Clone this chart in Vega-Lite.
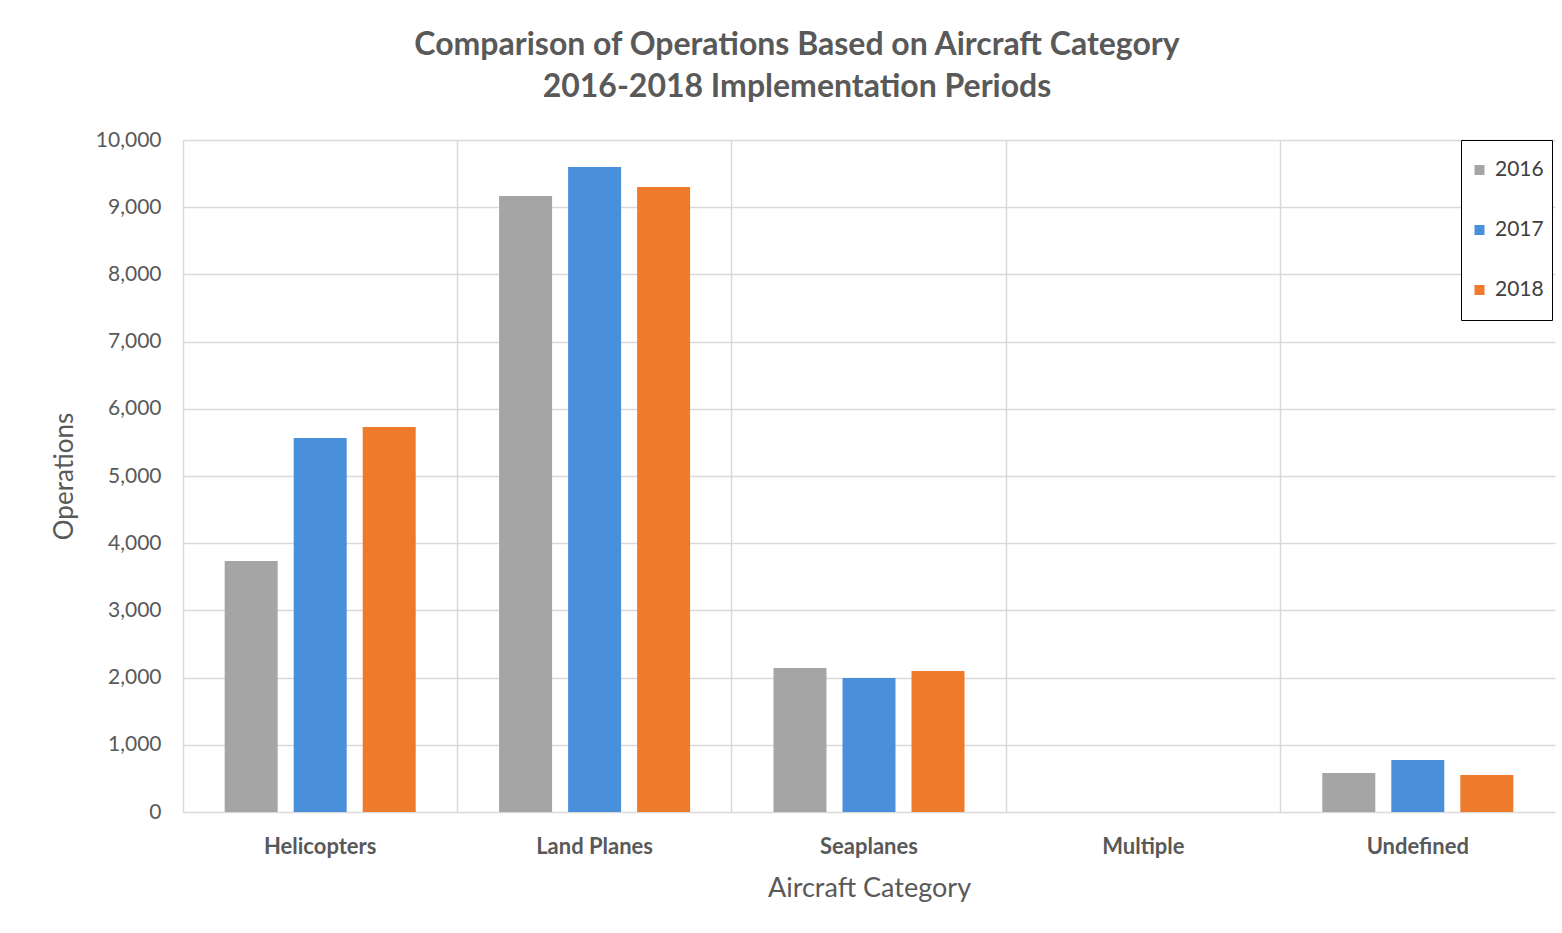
{
  "$schema": "https://vega.github.io/schema/vega-lite/v6.json",
  "width": 1372,
  "height": 672,
  "autosize": {"type": "none"},
  "padding": {"left": 183, "top": 140, "right": 7, "bottom": 121},
  "background": "white",
  "title": {
    "text": ["Comparison of Operations Based on Aircraft Category", "2016-2018 Implementation Periods"],
    "anchor": "middle",
    "dx": -72,
    "offset": 25,
    "font": "Lato",
    "fontSize": 32,
    "fontWeight": "bold",
    "color": "#595959",
    "lineHeight": 42
  },
  "data": {
    "values": [
      {"category": "Helicopters", "year": "2016", "operations": 3735},
      {"category": "Helicopters", "year": "2017", "operations": 5565},
      {"category": "Helicopters", "year": "2018", "operations": 5729},
      {"category": "Land Planes", "year": "2016", "operations": 9167},
      {"category": "Land Planes", "year": "2017", "operations": 9598},
      {"category": "Land Planes", "year": "2018", "operations": 9301},
      {"category": "Seaplanes", "year": "2016", "operations": 2143},
      {"category": "Seaplanes", "year": "2017", "operations": 1994},
      {"category": "Seaplanes", "year": "2018", "operations": 2098},
      {"category": "Multiple", "year": "2016", "operations": 0},
      {"category": "Multiple", "year": "2017", "operations": 0},
      {"category": "Multiple", "year": "2018", "operations": 0},
      {"category": "Undefined", "year": "2016", "operations": 580},
      {"category": "Undefined", "year": "2017", "operations": 774},
      {"category": "Undefined", "year": "2018", "operations": 551}
    ]
  },
  "mark": {"type": "bar"},
  "encoding": {
    "x": {
      "field": "category", "type": "nominal",
      "sort": ["Helicopters", "Land Planes", "Seaplanes", "Multiple", "Undefined"],
      "scale": {"paddingInner": 0, "paddingOuter": 0},
      "axis": {
        "title": "Aircraft Category",
        "labelAngle": 0,
        "bandPosition": 0,
        "labelAlign": "center",
        "labelFont": "Lato", "labelFontSize": 22, "labelFontWeight": "bold", "labelColor": "#595959",
        "labelPadding": 24,
        "titleFont": "Lato", "titleFontSize": 27, "titleFontWeight": "normal", "titleColor": "#595959",
        "titlePadding": 18,
        "ticks": false, "domain": false,
        "grid": true, "gridColor": "#d9d9d9", "gridWidth": 1.5
      }
    },
    "xOffset": {
      "field": "year", "type": "nominal",
      "scale": {"paddingInner": 0.232, "paddingOuter": 0.604}
    },
    "y": {
      "field": "operations", "type": "quantitative",
      "scale": {"domain": [0, 10000]},
      "axis": {
        "title": "Operations",
        "format": ",.0f",
        "values": [0, 1000, 2000, 3000, 4000, 5000, 6000, 7000, 8000, 9000, 10000],
        "labelFont": "Lato", "labelFontSize": 21, "labelColor": "#595959",
        "labelPadding": 22,
        "titleFont": "Lato", "titleFontSize": 26, "titleFontWeight": "normal", "titleColor": "#595959",
        "titlePadding": 18,
        "ticks": false, "domain": false,
        "grid": true, "gridColor": "#d9d9d9", "gridWidth": 1.5
      }
    },
    "color": {
      "field": "year", "type": "nominal",
      "scale": {"domain": ["2016", "2017", "2018"], "range": ["#A5A5A5", "#4A8FDA", "#EE7A2C"]},
      "legend": {
        "title": null,
        "orient": "none",
        "legendX": 1278,
        "legendY": 0,
        "symbolType": "square",
        "symbolSize": 100,
        "symbolStrokeWidth": 0,
        "labelFont": "Lato", "labelFontSize": 21, "labelColor": "#404040",
        "labelOffset": 5,
        "clipHeight": 44,
        "rowPadding": 16,
        "padding": 8,
        "strokeColor": "black",
        "fillColor": "white"
      }
    }
  },
  "config": {"view": {"stroke": null}}
}
